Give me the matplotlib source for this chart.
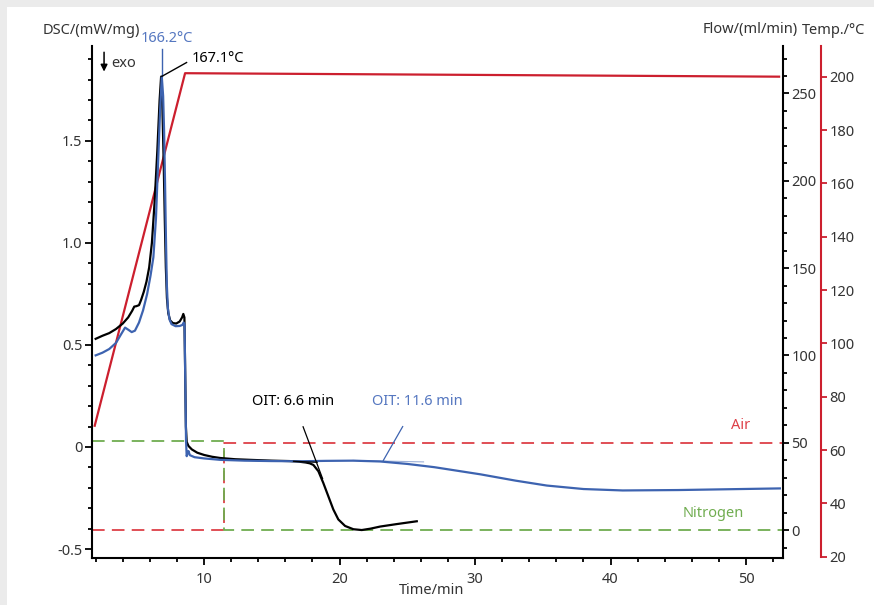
import matplotlib
matplotlib.use('Agg')
import matplotlib.pyplot as plt
from matplotlib.patches import Rectangle
from matplotlib.ticker import MultipleLocator

plt.rcParams['font.family'] = ['Noto Sans', 'DejaVu Sans']

# DSC curve, sample 1 (blue, OIT 11.6 min)
blue_t = [2.0, 2.5, 3.0, 3.5, 3.9, 4.17, 4.4, 4.66, 4.9, 5.2, 5.5, 5.8, 6.05, 6.26, 6.45,
          6.6, 6.75, 6.88, 6.98, 7.05, 7.12, 7.18, 7.25, 7.33, 7.45, 7.6, 7.9, 8.2, 8.4,
          8.5, 8.56, 8.62, 8.67, 8.72, 8.78, 8.85, 8.95, 9.3, 10.0, 11.2, 13.0, 15.0, 17.0,
          19.0, 21.0, 23.0, 25.0, 27.0, 30.4, 33.0, 35.3, 38.0, 40.9, 45.0, 52.5]
blue_dsc = [0.449, 0.462, 0.48, 0.51, 0.555, 0.585, 0.575, 0.563, 0.57, 0.61, 0.67, 0.75, 0.84,
            0.93, 1.12, 1.38, 1.64, 1.815, 1.72, 1.55, 1.30, 1.05, 0.80, 0.68, 0.625, 0.602,
            0.592, 0.593, 0.598, 0.61, 0.60, 0.30, 0.03, -0.045, -0.03, -0.02, -0.04, -0.05,
            -0.056, -0.063, -0.067, -0.069, -0.070, -0.068, -0.067, -0.071, -0.083, -0.099,
            -0.134, -0.165, -0.189, -0.206, -0.213, -0.211, -0.203]

# DSC curve, sample 2 (black, OIT 6.6 min)
black_t = [2.0, 2.5, 3.0, 3.5, 4.0, 4.4, 4.7, 4.85, 5.0, 5.2, 5.35, 5.55, 5.75, 5.95, 6.15,
           6.35, 6.55, 6.72, 6.83, 6.93, 7.02, 7.1, 7.18, 7.26, 7.36, 7.5, 7.7, 7.95, 8.2,
           8.38, 8.47, 8.55, 8.6, 8.66, 8.72, 8.85, 9.1, 9.5, 10.0, 10.6, 11.2, 12.3, 13.4,
           15.0, 16.3, 17.0, 17.5, 17.8, 18.07, 18.44, 18.8, 19.17, 19.54, 19.91, 20.41,
           21.02, 21.64, 22.3, 22.99, 24.2, 25.7]
black_dsc = [0.53, 0.545, 0.558, 0.578, 0.605, 0.635, 0.668, 0.688, 0.69, 0.695, 0.72, 0.76,
             0.81, 0.88, 1.0, 1.2, 1.45, 1.70, 1.815, 1.65, 1.40, 1.12, 0.88, 0.73, 0.655, 0.62,
             0.607, 0.605, 0.615, 0.635, 0.652, 0.635, 0.40, 0.10, 0.025, 0.005, -0.012, -0.028,
             -0.039, -0.048, -0.054, -0.060, -0.063, -0.067, -0.069, -0.072, -0.076, -0.080,
             -0.088, -0.119, -0.176, -0.241, -0.306, -0.355, -0.387, -0.403, -0.407, -0.400,
             -0.390, -0.378, -0.364]

# temperature program
temp_t = [1.93, 8.6, 52.44]
temp_c = [69.1, 201.3, 200.0]

# gas flows
switch_t = 11.5
flow_t = [1.73, switch_t, switch_t, 52.73]
air_flow = [0, 0, 50, 50]
n2_flow = [51.2, 51.2, 0, 0]

# annotation geometry (data units)
blue_peak = (6.88, 1.816)
oit_black_tangent = ([17.31, 18.75], [0.099, -0.155])
oit_black_base = ([16.6, 18.35], [-0.070, -0.075])
oit_blue_leader = ([24.66, 23.23], [0.10, -0.066])
oit_blue_base = ([21.0, 26.2], [-0.066, -0.073])

BLUE = '#3d63b0'
BLUE_TXT = '#5577c0'
RED = '#cc1f2e'
RED_DASH = '#dd4048'
GREEN = '#70ad50'
TXT = '#333333'

fig = plt.figure(figsize=(8.74, 6.05), dpi=100, facecolor='#ebebeb')
fig.patches.append(Rectangle((7 / 874, 0), 1, 1 - 7 / 605, transform=fig.transFigure,
                             facecolor='white', edgecolor='none', zorder=-10))

pos = [92 / 874, 1 - 558 / 605, (783 - 92) / 874, (558 - 46) / 605]
ax_flow = fig.add_axes(pos)
ax_temp = fig.add_axes(pos)
ax = fig.add_axes(pos)
for a in (ax_flow, ax_temp, ax):
    a.patch.set_visible(False)
    a.set_xlim(1.73, 52.73)
    for s in a.spines.values():
        s.set_visible(False)

# flow axis
ax_flow.set_ylim(-16.0, 277.2)
ax_flow.yaxis.tick_right()
ax_flow.spines['right'].set_visible(True)
ax_flow.spines['right'].set_linewidth(1.5)
ax_flow.yaxis.set_major_locator(MultipleLocator(50))
ax_flow.yaxis.set_minor_locator(MultipleLocator(10))
ax_flow.tick_params(axis='y', which='both', direction='out', width=1.3, colors='black',
                    labelcolor=TXT, labelsize=10.5, pad=2)
ax_flow.tick_params(axis='y', which='major', length=4)
ax_flow.tick_params(axis='y', which='minor', length=3)
ax_flow.set_xticks([])
ax_flow.plot(flow_t, air_flow, color=RED_DASH, lw=1.3, dashes=(7, 4))
ax_flow.plot(flow_t, n2_flow, color=GREEN, lw=1.3, dashes=(7, 4))
ax_flow.text(49.63, 60, 'Air', color=RED_DASH, fontsize=10.5, ha='center', va='center')
ax_flow.text(47.56, 9.7, 'Nitrogen', color=GREEN, fontsize=10.5, ha='center', va='center')

# temperature axis
ax_temp.set_ylim(19.5, 211.5)
ax_temp.yaxis.tick_right()
ax_temp.spines['right'].set_visible(True)
ax_temp.spines['right'].set_position(('outward', 38 * 0.72))
ax_temp.spines['right'].set_color(RED)
ax_temp.spines['right'].set_linewidth(1.5)
ax_temp.spines['right'].set_bounds(20, 211.5)
ax_temp.set_yticks(range(20, 201, 20))
ax_temp.tick_params(axis='y', direction='out', length=4, width=1.3, color=RED,
                    labelcolor=TXT, labelsize=10.5, pad=2)
ax_temp.set_xticks([])
ax_temp.plot(temp_t, temp_c, color=RED, lw=1.6)

# DSC axis
ax.set_ylim(-0.544, 1.965)
ax.spines['left'].set_visible(True)
ax.spines['bottom'].set_visible(True)
ax.spines['left'].set_linewidth(1.5)
ax.spines['bottom'].set_linewidth(1.5)
ax.xaxis.set_major_locator(MultipleLocator(10))
ax.xaxis.set_minor_locator(MultipleLocator(2))
ax.yaxis.set_major_locator(MultipleLocator(0.5))
ax.yaxis.set_minor_locator(MultipleLocator(0.1))
ax.yaxis.set_major_formatter(plt.FuncFormatter(lambda v, p: '0' if abs(v) < 1e-9 else f'{v:.1f}'))
ax.tick_params(which='both', direction='out', width=1.3, labelcolor=TXT, labelsize=10.5)
ax.tick_params(which='major', length=5, pad=2)
ax.tick_params(which='minor', length=3)
ax.tick_params(axis='x', pad=5)

ax.plot(black_t, black_dsc, color='black', lw=1.6)
ax.plot(blue_t, blue_dsc, color=BLUE, lw=1.6)

# peak labels
ax.plot([blue_peak[0], blue_peak[0]], [blue_peak[1], 1.948], color=BLUE, lw=1, clip_on=False)
ax.text(7.27, 2.0, '166.2°C', color=BLUE_TXT, fontsize=10.5, ha='center', va='center',
        clip_on=False)
ax.plot([blue_peak[0], 8.71], [blue_peak[1], 1.884], color='black', lw=1, clip_on=False)
ax.text(9.11, 1.904, '167.1°C', color='black', fontsize=10.5, ha='left', va='center')

# OIT marks
ax.plot(*oit_black_tangent, color='black', lw=0.9)
ax.plot(*oit_black_base, color='black', lw=0.9)
ax.text(16.57, 0.221, 'OIT: 6.6 min', color='black', fontsize=10.5, ha='center', va='center')
ax.plot(*oit_blue_leader, color=BLUE, lw=0.9)
ax.plot(*oit_blue_base, color=BLUE, lw=0.8, alpha=0.5)
ax.text(25.72, 0.221, 'OIT: 11.6 min', color=BLUE_TXT, fontsize=10.5, ha='center', va='center')

# exo arrow
ax.annotate('', xy=(2.62, 1.826), xytext=(2.62, 1.948),
            arrowprops=dict(arrowstyle='-|>', color='black', lw=1.1, mutation_scale=10),
            annotation_clip=False)
ax.text(3.14, 1.879, 'exo', color=TXT, fontsize=10.5, ha='left', va='center')

# axis titles
fig.text(91 / 874, 1 - 30 / 605, 'DSC/(mW/mg)', color=TXT, fontsize=10.5, ha='center', va='center')
fig.text(750 / 874, 1 - 30 / 605, 'Flow/(ml/min)', color=TXT, fontsize=10.5, ha='center', va='center')
fig.text(834 / 874, 1 - 30 / 605, 'Temp./°C', color=TXT, fontsize=10.5, ha='center', va='center')
fig.text(432 / 874, 1 - 590 / 605, 'Time/min', color=TXT, fontsize=10.5, ha='center', va='center')

fig.savefig('out.png', dpi=100, facecolor=fig.get_facecolor())
